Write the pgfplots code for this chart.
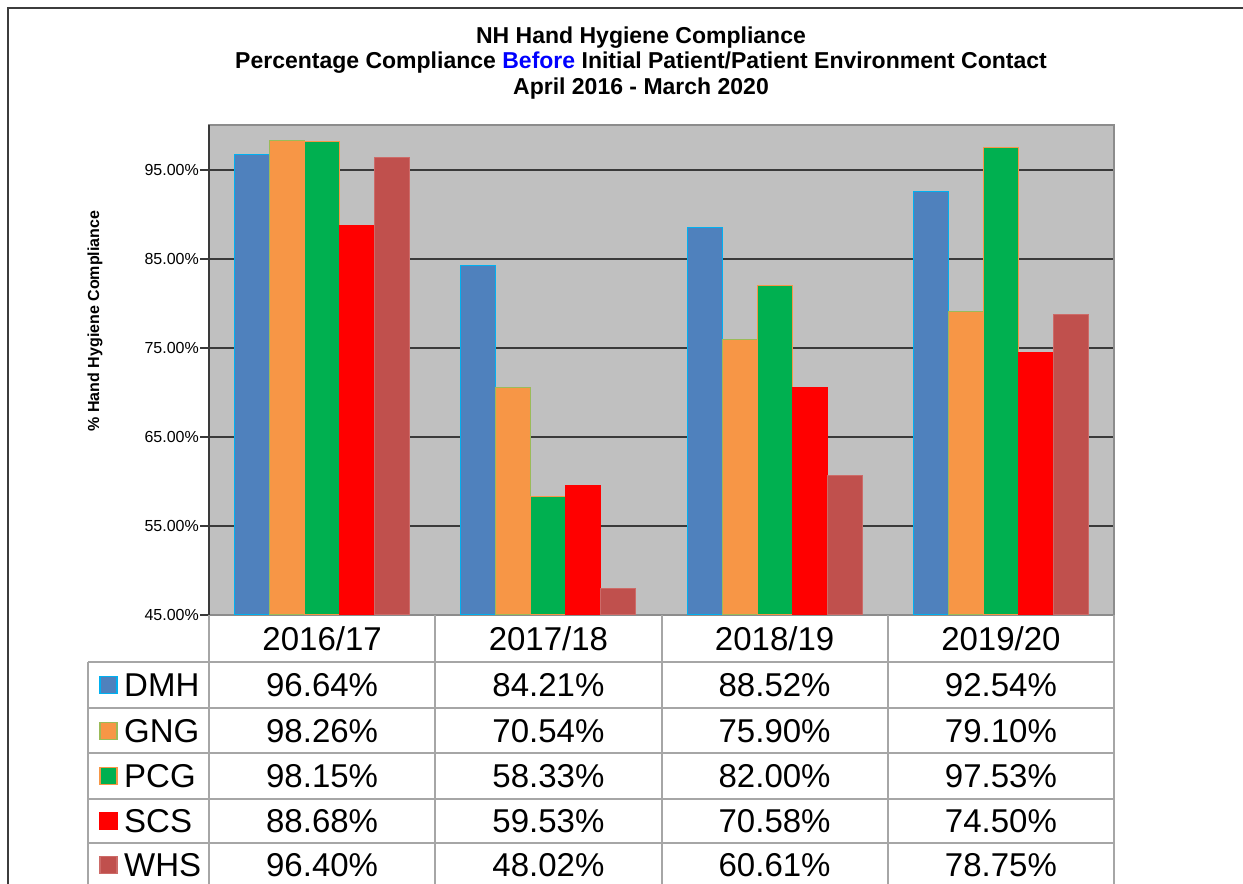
\documentclass[border=0pt]{standalone}
\usepackage{pgfplots}
\usepackage{pgfplotstable}
\pgfplotsset{compat=1.18}
\usepackage{fontspec}
\setmainfont{Liberation Sans}
\definecolor{fDMH}{HTML}{4F81BD}\definecolor{dDMH}{HTML}{00B0F0}
\definecolor{fGNG}{HTML}{F79646}\definecolor{dGNG}{HTML}{9BBB59}
\definecolor{fPCG}{HTML}{00B050}\definecolor{dPCG}{HTML}{F79646}
\definecolor{fSCS}{HTML}{FF0000}\definecolor{dSCS}{HTML}{FF0000}
\definecolor{fWHS}{HTML}{C0504D}\definecolor{dWHS}{HTML}{CD6B68}
\definecolor{plotbg}{HTML}{C0C0C0}
\definecolor{gridc}{HTML}{3A3A3A}
\definecolor{boxc}{HTML}{8C8C8C}
\definecolor{tabc}{HTML}{A6A6A6}
\definecolor{framec}{HTML}{3C3C3C}
\pgfplotstableread{
x DMH GNG PCG SCS WHS
0 96.64 98.26 98.15 88.68 96.40
1 84.21 70.54 58.33 59.53 48.02
2 88.52 75.90 82.00 70.58 60.61
3 92.54 79.10 97.53 74.50 78.75
}\datatable
\begin{document}
\begin{tikzpicture}
\useasboundingbox (0,0) rectangle (1243pt,884pt);
\fill[white] (0,0) rectangle (1243pt,884pt);
\begin{axis}[at={(209pt,269pt)}, anchor=south west,
  width=905pt, height=490pt, scale only axis,
  xmin=-0.5, xmax=3.5, ymin=45, ymax=100,
  ybar=0pt, bar width=35pt,
  xtick=\empty,
  ytick={45,55,65,75,85,95},
  yticklabels={45.00\%,55.00\%,65.00\%,75.00\%,85.00\%,95.00\%},
  ymajorgrids, major grid style={line width=2pt, color=gridc},
  axis background/.style={fill=plotbg},
  axis line style={line width=1.2pt, color=boxc},
  ytick style={line width=2pt, color=gridc},
  major tick length=9pt, tick align=outside, ytick pos=left,
  yticklabel style={font=\fontsize{16}{19}\selectfont, inner sep=1pt},
]
\addplot[fill=fDMH, draw=dDMH, line width=1pt] table[x=x,y=DMH]{\datatable};
\addplot[fill=fGNG, draw=dGNG, line width=1pt] table[x=x,y=GNG]{\datatable};
\addplot[fill=fPCG, draw=dPCG, line width=1pt] table[x=x,y=PCG]{\datatable};
\addplot[fill=fSCS, draw=dSCS, line width=1pt] table[x=x,y=SCS]{\datatable};
\addplot[fill=fWHS, draw=dWHS, line width=1pt] table[x=x,y=WHS]{\datatable};
\end{axis}
\begin{scope}[x=1pt, y=-1pt, shift={(0pt,884pt)}]
  % frame
  \draw[framec, line width=2pt] (8,884) -- (8,8) -- (1243,8);
  % left axis line darker
  \draw[gridc, line width=1.6pt] (209,125) -- (209,615);
  % titles
  \node[font=\fontsize{23}{27}\selectfont\bfseries] at (641,38) {NH Hand Hygiene Compliance};
  \node[font=\fontsize{23}{27}\selectfont\bfseries] at (641,63) {Percentage Compliance \textcolor{blue}{Before} Initial Patient/Patient Environment Contact};
  \node[font=\fontsize{23}{27}\selectfont\bfseries] at (641,89) {April 2016 - March 2020};
  % y label
  \node[font=\fontsize{16}{19}\selectfont\bfseries, rotate=90] at (95,321) {\% Hand Hygiene Compliance};
  % table lines
  \begin{scope}[tabc, line width=2pt]
    \draw (209,615) -- (209,884);
    \draw (435.25,615) -- (435.25,884);
    \draw (661.5,615) -- (661.5,884);
    \draw (887.75,615) -- (887.75,884);
    \draw (1114,615) -- (1114,884);
    \draw (88,662) -- (88,884);
    \foreach \yy in {662,708,753.5,799,843.5} \draw (88,\yy) -- (1114,\yy);
  \end{scope}
  % header
  \begin{scope}[font=\fontsize{33}{40}\selectfont]
    \node at (322.1,639) {2016/17};
    \node at (548.4,639) {2017/18};
    \node at (774.6,639) {2018/19};
    \node at (1000.9,639) {2019/20};
    % legend keys and names
    \foreach \nm/\yy [count=\i] in {DMH/685,GNG/731,PCG/776,SCS/821,WHS/865}{
      \filldraw[fill=f\nm, draw=d\nm, line width=1.2pt] (100,\yy-8.5) rectangle (117,\yy+8.5);
      \node[anchor=west, inner sep=0pt] at (124,\yy) {\vphantom{0}\nm};
    }
    % values
    \foreach \a/\b/\c/\d/\yy in {
      96.64/84.21/88.52/92.54/685,
      98.26/70.54/75.90/79.10/731,
      98.15/58.33/82.00/97.53/776,
      88.68/59.53/70.58/74.50/821,
      96.40/48.02/60.61/78.75/865}{
      \node at (322.1,\yy) {\a\%};
      \node at (548.4,\yy) {\b\%};
      \node at (774.6,\yy) {\c\%};
      \node at (1000.9,\yy) {\d\%};
    }
  \end{scope}
\end{scope}
\end{tikzpicture}
\end{document}
